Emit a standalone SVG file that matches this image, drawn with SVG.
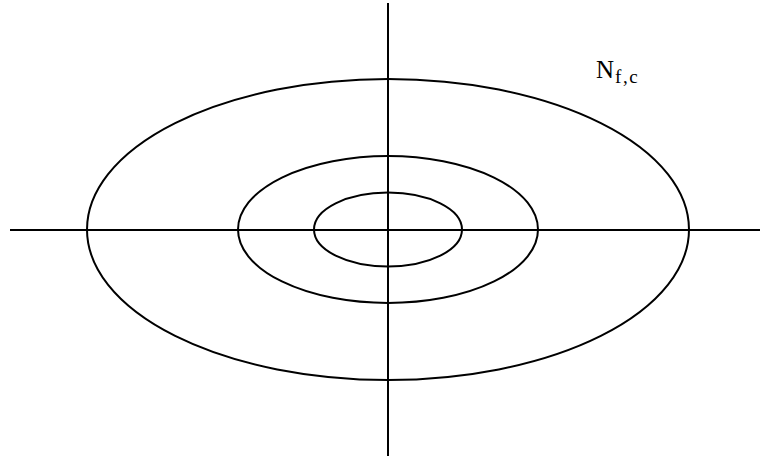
<svg xmlns="http://www.w3.org/2000/svg" width="760" height="456" viewBox="0 0 760 456">
<style>
.ln{stroke:#000;stroke-width:2;fill:none}
.lbl{font-family:"Liberation Serif","DejaVu Serif",serif;fill:#000}
</style>
<rect width="760" height="456" fill="#fff"/>
<g id="connectors">
<line class="ln" x1="10" y1="230" x2="760" y2="230"/>
<line class="ln" x1="388" y1="3" x2="388" y2="456"/>
</g>
<g id="outer"><ellipse class="ln" cx="388" cy="229.5" rx="301" ry="150.5"/></g>
<g id="middle"><ellipse class="ln" cx="388" cy="229.5" rx="150" ry="73.5"/></g>
<g id="inner"><ellipse class="ln" cx="388" cy="229.5" rx="74" ry="37"/></g>
<g id="label"><text class="lbl" x="596" y="78" font-size="25">N<tspan font-size="19" dy="5" dx="1" letter-spacing="1.5">f,c</tspan></text></g>
</svg>
